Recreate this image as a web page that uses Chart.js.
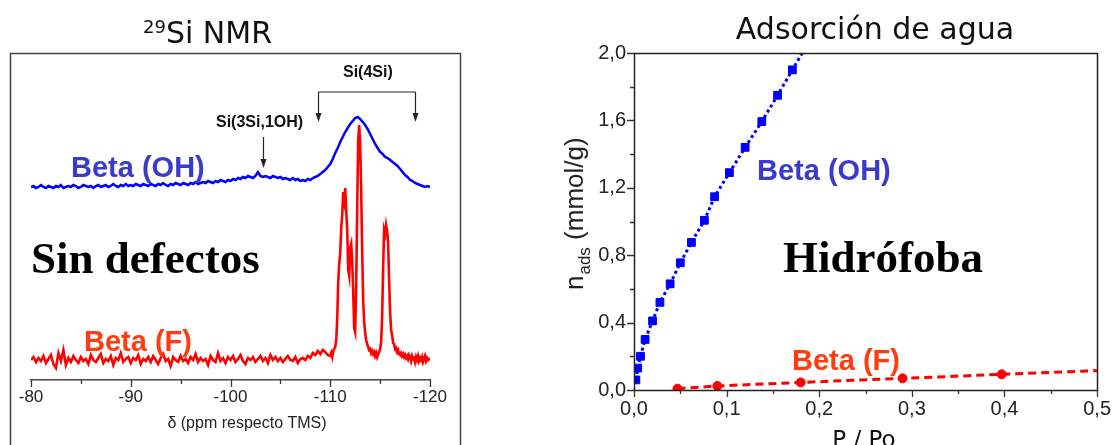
<!DOCTYPE html>
<html>
<head>
<meta charset="utf-8">
<script src="https://cdn.jsdelivr.net/npm/chart.js@4.4.1/dist/chart.umd.min.js"></script>
<style>
  html, body { margin: 0; padding: 0; background: #fff; }
  body { width: 1118px; height: 445px; position: relative; overflow: hidden; }
  canvas { position: absolute; top: 0; }
  #nmr { left: 0; }
  #ads { left: 470px; }
</style>
</head>
<body>
<canvas id="nmr" width="470" height="445"></canvas>
<canvas id="ads" width="648" height="445"></canvas>
<script>
// 29Si NMR spectra, intensity in arbitrary units (traces are offset)
var ppmStart = -80;
var blueStep = -0.25;
var betaOH = [
  193, 194, 192, 193, 195, 193, 192, 194, 193, 192,
  194, 193, 195, 192, 193, 194, 193, 195, 194, 192,
  193, 195, 194, 193, 194, 192, 194, 195, 193, 194,
  195, 193, 194, 196, 194, 193, 195, 194, 196, 194,
  195, 194, 196, 195, 194, 196, 195, 194, 196, 195,
  194, 196, 195, 197, 195, 194, 196, 195, 197, 196,
  195, 197, 196, 195, 197, 196, 198, 196, 197, 198,
  197, 199, 198, 197, 199, 198, 200, 199, 198, 200,
  199, 201, 200, 202, 201, 203, 202, 204, 203, 202,
  204, 208, 204, 203, 204, 203, 202, 204, 203, 202,
  203, 201, 202, 201, 200, 202, 200, 201, 199, 200,
  199, 201, 200, 202, 203, 204, 206, 208, 210, 213,
  216, 221, 227, 232, 238, 243, 248, 252, 256, 259,
  262, 263, 261, 258, 255, 251, 246, 241, 236, 232,
  228, 226, 223, 222, 220, 218, 216, 214, 211, 208,
  205, 203, 200, 199, 197, 196, 195, 194, 193, 194,
  193
];
// Beta (F): -80 .. -109.75 every 0.25 ppm, then -110 .. -120 every 0.1 ppm
var redCoarseStep = -0.25;
var betaFCoarse = [
  20, 23, 18, 22, 19, 24, 17, 21, 25, 16,
  12, 27, 19, 30, 15, 22, 18, 24, 20, 17,
  23, 19, 21, 16, 25, 20, 18, 22, 26, 17,
  21, 19, 24, 15, 22, 20, 27, 18, 21, 23,
  17, 22, 20, 25, 16, 21, 19, 23, 18, 24,
  20, 16, 22, 26, 19, 21, 14, 23, 20, 18,
  24, 19, 21, 17, 23, 20, 26, 18, 22, 19,
  21, 15, 24, 20, 18, 27, 19, 22, 17, 23,
  20, 24, 18, 21, 25, 19, 16, 22, 20, 23,
  18, 21, 24, 19, 22, 17, 25, 20, 23, 19,
  22, 18, 21, 24, 20, 19, 23, 17, 21, 22,
  20, 24, 22, 27, 25, 29, 26, 30, 28, 25
];
var redFineStart = -110;
var redFineStep = -0.1;
var betaFFine = [
  24, 27, 23, 29, 31, 33, 40, 62, 98, 116,
  127, 152, 165, 188, 180, 192, 170, 150, 110, 104,
  132, 136, 118, 88, 52, 48, 95, 170, 240, 255,
  235, 190, 130, 80, 58, 47, 40, 36, 33, 30,
  31, 27, 29, 26, 28, 24, 27, 23, 26, 28,
  31, 38, 62, 112, 150, 146, 155, 149, 138, 100,
  68, 50, 45, 37, 36, 31, 32, 28, 30, 26,
  25, 27, 24, 26, 23, 25, 22, 24, 21, 25,
  23, 19, 24, 21, 22, 18, 23, 20, 24, 19,
  22, 20, 23, 18, 21, 24, 19, 22, 20, 21,
  20
];
var nmrTicks = ['-80', '-90', '-100', '-110', '-120'];

// water adsorption isotherms
var poOH = [0.002, 0.004, 0.007, 0.012, 0.020, 0.028, 0.039, 0.050, 0.062, 0.076, 0.087, 0.103, 0.120, 0.138, 0.155, 0.171, 0.188];
var nOH = [0.06, 0.13, 0.20, 0.30, 0.41, 0.52, 0.63, 0.755, 0.876, 1.007, 1.147, 1.29, 1.44, 1.593, 1.749, 1.90, 2.06];
var poF = [0.047, 0.090, 0.180, 0.290, 0.397, 0.5];
var nF = [0.008, 0.024, 0.045, 0.069, 0.093, 0.115];

var SANS = "'Liberation Sans', Arial, sans-serif";
var DEJA = "'DejaVu Sans', Verdana, sans-serif";
var SERIF = "'Liberation Serif', 'Times New Roman', serif";

function drawTickMarks(chart, id, values, len) {
  var s = chart.scales[id], a = chart.chartArea, ctx = chart.ctx;
  ctx.save();
  ctx.strokeStyle = '#333';
  ctx.lineWidth = 1.3;
  ctx.beginPath();
  values.forEach(function (v) {
    var p = Math.round(s.getPixelForValue(v)) + 0.5;
    if (s.isHorizontal()) { ctx.moveTo(p, a.bottom); ctx.lineTo(p, a.bottom + len); }
    else { ctx.moveTo(a.left, p); ctx.lineTo(a.left - len, p); }
  });
  ctx.stroke();
  ctx.restore();
}
function majorMinor(chart, id, majLen, minLen) {
  var vals = chart.scales[id].ticks.map(function (t) { return t.value; });
  var mids = [];
  for (var i = 1; i < vals.length; i++) mids.push((vals[i] + vals[i - 1]) / 2);
  drawTickMarks(chart, id, vals, majLen);
  drawTickMarks(chart, id, mids, minLen);
}
function arrowDown(ctx, x, y1, y2) {
  ctx.beginPath();
  ctx.moveTo(x, y1); ctx.lineTo(x, y2 - 6);
  ctx.stroke();
  ctx.beginPath();
  ctx.moveTo(x - 3, y2 - 9); ctx.lineTo(x + 3, y2 - 9); ctx.lineTo(x, y2);
  ctx.closePath();
  ctx.fill();
}

var nmrDecor = {
  id: 'nmrDecor',
  afterDraw: function (chart) {
    var ctx = chart.ctx, x = chart.scales.x;
    ctx.save();
    // panel frame
    ctx.strokeStyle = '#444';
    ctx.lineWidth = 1.5;
    ctx.beginPath();
    ctx.moveTo(10.5, 445); ctx.lineTo(10.5, 53.5); ctx.lineTo(460.5, 53.5); ctx.lineTo(460.5, 445);
    ctx.stroke();
    majorMinor(chart, 'x', 7, 4);

    // title: superscript mass number + element
    ctx.fillStyle = '#111';
    ctx.textAlign = 'left';
    ctx.font = '18px ' + DEJA;
    ctx.fillText('29', 143, 33);
    var w = ctx.measureText('29').width;
    ctx.font = '30px ' + DEJA;
    ctx.fillText('Si NMR', 143 + w, 43);

    ctx.textAlign = 'center';
    ctx.font = '16px ' + SANS;
    ctx.fillStyle = '#222';
    ctx.fillText('δ (ppm respecto TMS)', 247, 428);

    // peak assignments
    ctx.textAlign = 'left';
    ctx.fillStyle = '#111';
    ctx.font = 'bold 16px ' + SANS;
    ctx.fillText('Si(4Si)', 343, 77);
    ctx.fillText('Si(3Si,1OH)', 216, 127);
    ctx.strokeStyle = '#222';
    ctx.fillStyle = '#222';
    ctx.lineWidth = 1.2;
    var xa = Math.round(x.getPixelForValue(-108.8)) + 0.5;
    var xb = Math.round(x.getPixelForValue(-118.5)) + 0.5;
    var xc = Math.round(x.getPixelForValue(-103.3)) + 0.5;
    ctx.beginPath();
    ctx.moveTo(xa, 92); ctx.lineTo(xb, 92);
    ctx.stroke();
    arrowDown(ctx, xa, 92, 122);
    arrowDown(ctx, xb, 92, 122);
    arrowDown(ctx, xc, 137, 168);

    ctx.font = 'bold 29px ' + SANS;
    ctx.fillStyle = '#3a3acc';
    ctx.fillText('Beta (OH)', 71, 177);
    ctx.fillStyle = '#ff3b10';
    ctx.fillText('Beta (F)', 84, 351);
    ctx.fillStyle = '#000';
    ctx.font = 'bold 45px ' + SERIF;
    ctx.fillText('Sin defectos', 31, 273);
    ctx.restore();
  }
};

var blueTrace = betaOH.map(function (v, i) { return { x: ppmStart + i * blueStep, y: v }; });
var redTrace = betaFCoarse.map(function (v, i) { return { x: ppmStart + i * redCoarseStep, y: v }; })
  .concat(betaFFine.map(function (v, i) { return { x: redFineStart + i * redFineStep, y: v }; }));

new Chart(document.getElementById('nmr'), {
  type: 'line',
  data: {
    datasets: [
      { label: 'Beta (OH)', data: blueTrace, borderColor: '#0000ff', borderWidth: 2.5, pointRadius: 0, tension: 0 },
      { label: 'Beta (F)', data: redTrace, borderColor: '#ff0000', borderWidth: 2.6, pointRadius: 0, tension: 0 }
    ]
  },
  options: {
    responsive: false,
    animation: false,
    layout: { padding: { left: 31, right: 40, top: 53, bottom: 0 } },
    plugins: { legend: { display: false }, tooltip: { enabled: false } },
    scales: {
      x: {
        type: 'linear', min: -120, max: -80, reverse: true,
        grid: { display: false, drawTicks: false },
        border: { display: true, color: '#444', width: 1.5 },
        ticks: {
          stepSize: 10, padding: 7, maxRotation: 0, color: '#222',
          font: { family: SANS, size: 17 },
          callback: function (v) { return nmrTicks[(v + 80) / -10]; }
        },
        afterFit: function (s) { s.height = 65; }
      },
      y: { display: false, min: 0, max: 327 }
    }
  },
  plugins: [nmrDecor]
});

var adsDecor = {
  id: 'adsDecor',
  afterDraw: function (chart) {
    var ctx = chart.ctx, a = chart.chartArea;
    ctx.save();
    ctx.strokeStyle = '#222';
    ctx.lineWidth = 1.5;
    ctx.strokeRect(Math.round(a.left) + 0.5, Math.round(a.top) + 0.5, Math.round(a.right - a.left), Math.round(a.bottom - a.top));
    majorMinor(chart, 'x', 7, 4);
    majorMinor(chart, 'y', 7, 4);

    ctx.fillStyle = '#111';
    ctx.textAlign = 'center';
    ctx.font = '30px ' + DEJA;
    ctx.fillText('Adsorción de agua', 405, 39);
    ctx.font = '23px ' + DEJA;
    ctx.fillText('P / Po', 394, 447);

    // rotated y title with subscript
    ctx.save();
    ctx.translate(113, 290);
    ctx.rotate(-Math.PI / 2);
    ctx.textAlign = 'left';
    ctx.fillStyle = '#222';
    ctx.font = '26px ' + SANS;
    ctx.fillText('n', 0, 0);
    var w = ctx.measureText('n').width;
    ctx.font = '17px ' + SANS;
    ctx.fillText('ads', w + 1, 7);
    w += ctx.measureText('ads').width + 1;
    ctx.font = '26px ' + SANS;
    ctx.fillText(' (mmol/g)', w, 0);
    ctx.restore();

    ctx.textAlign = 'left';
    ctx.font = 'bold 29px ' + SANS;
    ctx.fillStyle = '#3a3acc';
    ctx.fillText('Beta (OH)', 287, 180);
    ctx.fillStyle = '#ff3b10';
    ctx.fillText('Beta (F)', 322, 370);
    ctx.fillStyle = '#000';
    ctx.font = 'bold 45px ' + SERIF;
    ctx.fillText('Hidrófoba', 313, 272);
    ctx.restore();
  }
};

function pts(xs, ys) { return xs.map(function (p, i) { return { x: p, y: ys[i] }; }); }

new Chart(document.getElementById('ads'), {
  type: 'line',
  data: {
    datasets: [
      {
        label: 'Beta (OH)', data: pts(poOH, nOH),
        borderColor: '#0000ff', backgroundColor: '#0000ff', borderWidth: 3, borderDash: [3, 3],
        pointStyle: 'rect', pointBorderWidth: 1,
        pointRadius: function (c) { return c.parsed && c.parsed.y > 2 ? 0 : 5.5; },
        tension: 0
      },
      {
        label: 'Beta (F)', data: pts(poF, nF),
        borderColor: '#ff0000', backgroundColor: '#ff0000', borderWidth: 3, borderDash: [8, 5],
        pointStyle: 'circle', pointBorderWidth: 1,
        pointRadius: function (c) { return c.parsed && c.parsed.x >= 0.5 ? 0 : 4.5; },
        tension: 0
      }
    ]
  },
  options: {
    responsive: false,
    animation: false,
    layout: { padding: { left: 0, right: 16, top: 53, bottom: 0 } },
    plugins: { legend: { display: false }, tooltip: { enabled: false } },
    scales: {
      x: {
        type: 'linear', min: 0, max: 0.5,
        grid: { display: false, drawTicks: false },
        border: { display: false },
        ticks: {
          stepSize: 0.1, padding: 7, maxRotation: 0, color: '#222',
          font: { family: SANS, size: 20 },
          callback: function (v) { return v.toFixed(1).replace('.', ','); }
        },
        afterFit: function (s) { s.height = 55; }
      },
      y: {
        type: 'linear', min: 0, max: 2,
        grid: { display: false, drawTicks: false },
        border: { display: false },
        ticks: {
          stepSize: 0.4, padding: 8, color: '#222',
          font: { family: SANS, size: 20 },
          callback: function (v) { return v.toFixed(1).replace('.', ','); }
        },
        afterFit: function (s) { s.width = 164; }
      }
    }
  },
  plugins: [adsDecor]
});
</script>
</body>
</html>
